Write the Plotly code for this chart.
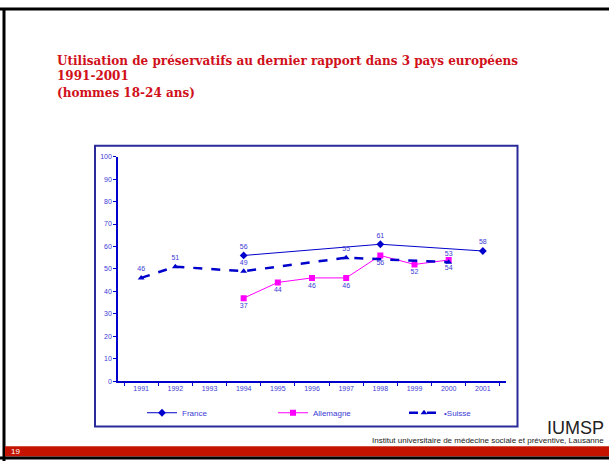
import plotly.graph_objects as go

years = ["1991", "1992", "1993", "1994", "1995", "1996", "1997", "1998", "1999", "2000", "2001"]
france = [None, None, None, 56, None, None, None, 61, None, None, 58]
allemagne = [None, None, None, 37, 44, 46, 46, 56, 52, 54, None]
suisse = [46, 51, None, 49, None, None, 55, None, None, 53, None]
y_ticks = [0, 10, 20, 30, 40, 50, 60, 70, 80, 90, 100]

W, H = 609, 464
def px(x): return x / W
def py(y): return 1 - y / H

BLUE = "#0000cc"
LBL = "#3b3bd6"

def labels(vals):
    return ["" if v is None else str(v) for v in vals]

fig = go.Figure()
fig.add_trace(go.Scatter(
    x=years, y=france, name="France", mode="lines+markers+text",
    connectgaps=True, line=dict(color=BLUE, width=1),
    marker=dict(symbol="diamond", size=6, color=BLUE),
    text=labels(france), textposition="top center",
    textfont=dict(size=7, color=LBL, family="Liberation Sans"),
))
fig.add_trace(go.Scatter(
    x=years, y=allemagne, name="Allemagne", mode="lines+markers+text",
    connectgaps=True, line=dict(color="#ff00ff", width=1),
    marker=dict(symbol="square", size=6, color="#ff00ff"),
    text=labels(allemagne), textposition="bottom center",
    textfont=dict(size=7, color=LBL, family="Liberation Sans"),
))
fig.add_trace(go.Scatter(
    x=years, y=suisse, name="\u2022Suisse", mode="lines+markers+text",
    connectgaps=True, line=dict(color=BLUE, width=2.5, dash="dash"),
    marker=dict(symbol="triangle-up", size=6, color=BLUE),
    text=labels(suisse), textposition="top center",
    textfont=dict(size=7, color=LBL, family="Liberation Sans"),
))

fig.update_layout(
    width=W, height=H,
    margin=dict(l=0, r=0, t=0, b=0),
    paper_bgcolor="white", plot_bgcolor="white",
    font=dict(family="Liberation Sans", size=7, color=LBL),
    xaxis=dict(
        domain=[px(118), px(506)], type="category", categoryorder="array",
        categoryarray=years, tickson="boundaries", ticks="outside", ticklen=3,
        tickcolor=BLUE, showline=True, linecolor=BLUE, linewidth=1.5,
        showgrid=False, zeroline=False, tickfont=dict(size=7, color=LBL),
        anchor="y", fixedrange=True,
    ),
    yaxis=dict(
        domain=[py(383), py(155)], range=[0, 100], tickvals=y_ticks,
        ticks="outside", ticklen=3, tickcolor=BLUE, showline=True,
        linecolor=BLUE, linewidth=1.5, showgrid=False, zeroline=False,
        tickfont=dict(size=7, color=LBL), anchor="x", fixedrange=True,
    ),
    showlegend=True,
    legend=dict(
        orientation="h", x=px(142), y=py(415), xanchor="left", yanchor="middle",
        entrywidth=86, entrywidthmode="pixels",
        font=dict(size=8, color=LBL, family="Liberation Sans"),
        bgcolor="rgba(0,0,0,0)", itemclick=False,
    ),
    shapes=[
        # slide border
        dict(type="line", xref="paper", yref="paper", x0=0, x1=1, y0=py(5), y1=py(5),
             line=dict(color="black", width=3)),
        dict(type="line", xref="paper", yref="paper", x0=px(4), x1=px(4), y0=py(4), y1=0,
             line=dict(color="black", width=3)),
        dict(type="rect", xref="paper", yref="paper", x0=px(5), x1=1, y0=py(449), y1=py(459.5),
             fillcolor="#c41400", line=dict(width=0)),
        dict(type="line", xref="paper", yref="paper", x0=0, x1=1, y0=py(461), y1=py(461),
             line=dict(color="black", width=3)),
        # chart box
        dict(type="rect", xref="paper", yref="paper", x0=px(95), x1=px(517.5), y0=py(429), y1=py(144),
             line=dict(color="#2a2a9a", width=2), fillcolor="rgba(0,0,0,0)", layer="below"),
    ],
    annotations=[
        dict(text="<b>Utilisation de préservatifs au dernier rapport dans 3 pays européens</b>",
             x=px(55), y=py(67), xref="paper", yref="paper", xanchor="left", yanchor="bottom",
             showarrow=False, font=dict(family="DejaVu Serif", size=12, color="#d0101a")),
        dict(text="<b>1991-2001</b>",
             x=px(55), y=py(82), xref="paper", yref="paper", xanchor="left", yanchor="bottom",
             showarrow=False, font=dict(family="DejaVu Serif", size=12, color="#d0101a")),
        dict(text="<b>(hommes 18-24 ans)</b>",
             x=px(55), y=py(99), xref="paper", yref="paper", xanchor="left", yanchor="bottom",
             showarrow=False, font=dict(family="DejaVu Serif", size=12, color="#d0101a")),
        dict(text="IUMSP", x=px(606), y=py(430), xref="paper", yref="paper",
             xanchor="right", yanchor="middle", showarrow=False,
             font=dict(family="Liberation Sans Narrow, Liberation Sans", size=18, color="#222222")),
        dict(text="Institut universitaire de médecine sociale et préventive, Lausanne",
             x=px(606), y=py(443.5), xref="paper", yref="paper",
             xanchor="right", yanchor="middle", showarrow=False,
             font=dict(family="Liberation Sans Narrow, Liberation Sans", size=8, color="#222222")),
        dict(text="19", x=px(9), y=py(454.5), xref="paper", yref="paper",
             xanchor="left", yanchor="middle", showarrow=False,
             font=dict(family="Liberation Sans", size=8, color="white")),
    ],
)

fig.write_html(
    "out.html",
    config={"displayModeBar": False},
    post_script="document.body.style.margin='0';document.body.style.overflow='hidden';",
)
